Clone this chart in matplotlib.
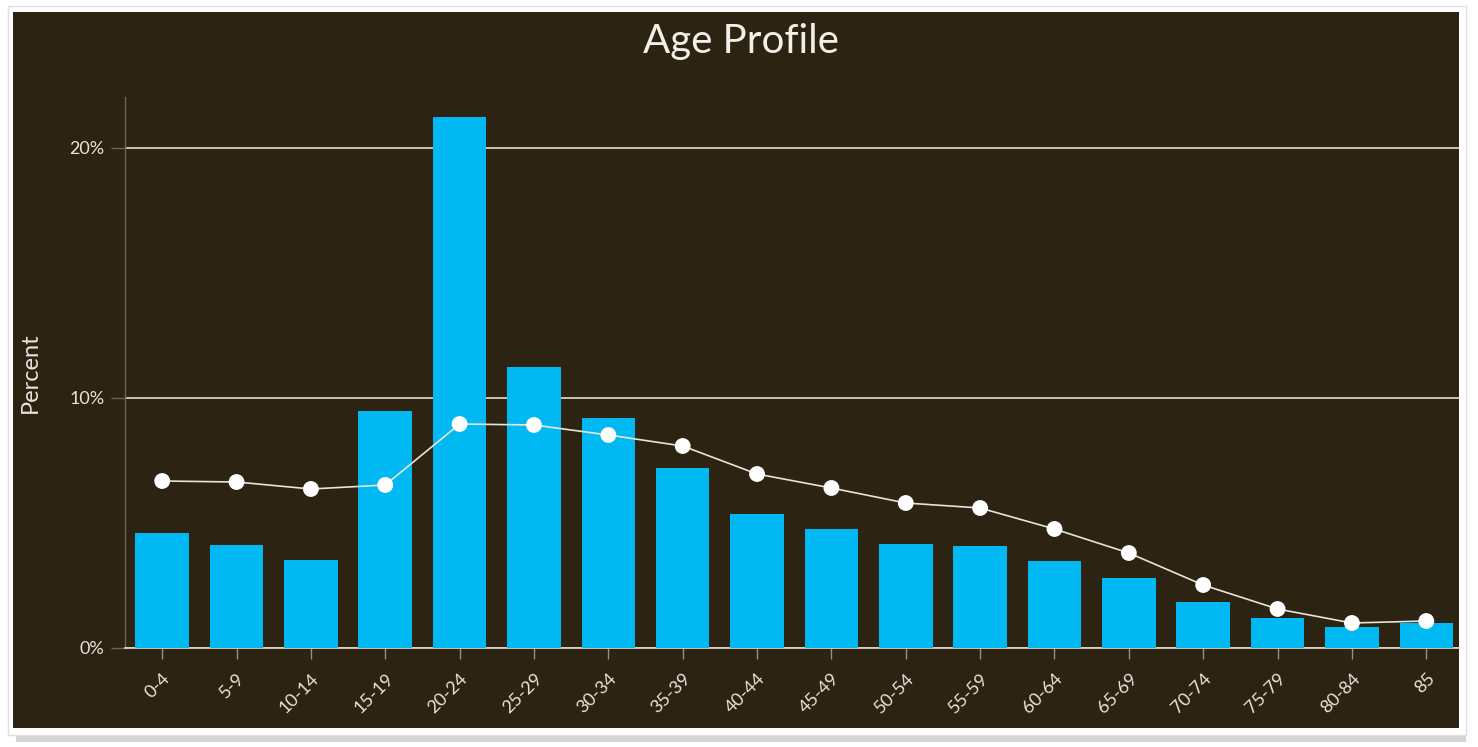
import matplotlib
matplotlib.use("Agg")
import matplotlib.pyplot as plt
from matplotlib.patches import Rectangle
from matplotlib.ticker import FuncFormatter

categories = ["0-4", "5-9", "10-14", "15-19", "20-24", "25-29", "30-34", "35-39",
              "40-44", "45-49", "50-54", "55-59", "60-64", "65-69", "70-74",
              "75-79", "80-84", "85"]
bar_values = [4.6, 4.12, 3.52, 9.48, 21.24, 11.24, 9.2, 7.2, 5.36, 4.76, 4.16,
              4.08, 3.48, 2.8, 1.84, 1.2, 0.84, 1.0]
line_values = [6.68, 6.64, 6.36, 6.52, 8.96, 8.92, 8.52, 8.08, 6.96, 6.4, 5.8,
               5.6, 4.76, 3.8, 2.52, 1.56, 1.0, 1.08]
y_ticks = [0, 10, 20]

plt.rcParams['font.family'] = ['Lato', 'DejaVu Sans']

W, H = 1478, 747
bg = "#2d2312"
fig = plt.figure(figsize=(W / 100, H / 100), dpi=100, facecolor="white")

# shadow + dark panel
fig.patches.append(Rectangle((16 / W, 1 - 742 / H), (1466 - 16) / W, (742 - 16) / H,
                             transform=fig.transFigure, facecolor="#b8b8b8",
                             edgecolor="none", alpha=0.6, zorder=0))
fig.patches.append(Rectangle((8 / W, 1 - 735 / H), (1466 - 8) / W, (735 - 6) / H,
                             transform=fig.transFigure, facecolor="white",
                             edgecolor="#e0e0e0", linewidth=1, zorder=0.5))
fig.patches.append(Rectangle((13 / W, 1 - 728 / H), (1459 - 13) / W, (728 - 12) / H,
                             transform=fig.transFigure, facecolor=bg,
                             edgecolor="none", zorder=1))

ax = fig.add_axes([125 / W, 1 - 648 / H, (1459 - 125) / W, (648 - 97) / H])
ax.set_facecolor("none")
ax.set_zorder(2)

x = list(range(len(categories)))
ax.bar(x, bar_values, width=0.72, color="#00b9f2", zorder=3)
ax.plot(x, line_values, color="#e8e4dc", linewidth=1.2, zorder=4)
ax.scatter(x, line_values, s=130, color="white", zorder=5, edgecolors="none")

ax.set_xlim(-0.5, 17.44)
ax.set_ylim(0, 22.04)
ax.set_yticks(y_ticks)
ax.yaxis.set_major_formatter(FuncFormatter(lambda v, p: f"{int(v)}%"))
ax.grid(axis="y", color="#d8d2c4", linewidth=1.3, zorder=1)
ax.set_axisbelow(True)

ax.set_xticks(x)
ax.set_xticklabels(categories, rotation=45, ha="right", rotation_mode="anchor")

for s in ["top", "right"]:
    ax.spines[s].set_visible(False)
ax.spines["left"].set_color("#6b6353")
ax.spines["left"].set_linewidth(1)
ax.spines["bottom"].set_color("#d8d2c4")
ax.spines["bottom"].set_linewidth(1.3)

ax.tick_params(axis="x", colors="#9a9385", length=8, width=1, labelcolor="#e8e4dc",
               labelsize=13, pad=8)
ax.tick_params(axis="y", colors="#6b6353", length=10, width=1, labelcolor="#e8e4dc",
               labelsize=13, pad=5)

ax.set_ylabel("Percent", color="#e8e4dc", fontsize=17, labelpad=20)

fig.text(741 / W, 1 - 42 / H, "Age Profile", color="#f2efe8", fontsize=29,
         ha="center", va="center")

fig.savefig("out.png", dpi=100, facecolor="white")
